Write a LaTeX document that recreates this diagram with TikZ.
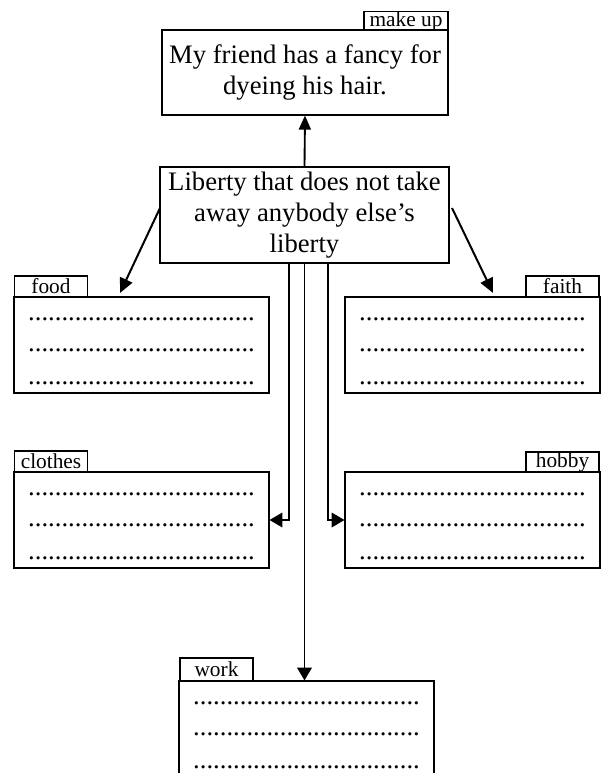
\documentclass[tikz,border=0pt]{standalone}
\usepackage{fontspec}
\setmainfont{Liberation Serif}
\usetikzlibrary{arrows.meta,calc}
\newcommand\dotstr{..................................}
\begin{document}
\begin{tikzpicture}[x=0.75pt,y=-0.75pt,
  box/.style={draw,line width=0.9pt,rectangle,inner sep=0pt,minimum width=191.25pt,minimum height=72pt},
  bigbox/.style={draw,line width=0.9pt,rectangle,inner sep=0pt,align=center,font=\fontsize{20pt}{23.5pt}\selectfont},
  tag/.style={draw,line width=0.8pt,rectangle,inner sep=0pt,minimum width=55pt,minimum height=15.75pt,font=\fontsize{16pt}{18pt}\selectfont},
  dotrow/.style={anchor=base,inner sep=0pt,font=\fontsize{20pt}{24pt}\selectfont},
  diag/.style={line width=1.5pt,-{Triangle[length=11pt,width=10pt]}},
  uparr/.style={line width=1.4pt,-{Triangle[length=10.5pt,width=9pt]}},
  thinarr/.style={line width=0.8pt,-{Triangle[length=9.5pt,width=11pt]}}]
\useasboundingbox (0,0) rectangle (600,773);
% main boxes
\node[bigbox,minimum width=214.5pt,minimum height=63.75pt] (top) at (305,72.5) {My friend has a fancy for\\dyeing his hair.};
\node[tag,minimum width=63pt,minimum height=13.5pt] (topl) at (406,21) {make up};
\node[bigbox,minimum width=216.75pt,minimum height=72pt] (ctr) at (304.5,215) {Liberty that does not take\\away anybody else’s\\liberty};
% answer boxes
\node[box] (food) at (141.5,345) {};
\node[tag] (foodl) at (51,286.5) {food};
\node[box] (faith) at (472.5,345) {};
\node[tag,minimum width=54.75pt] (faithl) at (562.5,286.5) {faith};
\node[box] (clothes) at (141.5,520) {};
\node[tag] (clothesl) at (51,461.5) {clothes};
\node[box] (hobby) at (472.5,520) {};
\node[tag,minimum width=54.75pt,minimum height=15pt] (hobbyl) at (562.5,462) {hobby};
\node[box,minimum height=75pt] (work) at (306.5,731) {};
\node[tag,minimum width=54.75pt,minimum height=17.25pt] (workl) at (216.5,669.5) {work};
% dotted rows
\foreach \b in {food,faith,clothes,hobby,work}{
  \foreach \dy [count=\k] in {24,55,88}
    \node[dotrow] (\b-d\k) at ($(\b.north)+(0,\dy)$) {\dotstr};
}
% connectors
\draw[uparr] (ctr.north) -- (top.south);
\coordinate (dl0) at (160,208);
\coordinate (dl1) at (120,293);
\coordinate (dr0) at (452,208);
\coordinate (dr1) at (493,293);
\draw[diag] (dl0) -- (dl1);
\draw[diag] (dr0) -- (dr1);
\coordinate (sL) at (289,263);
\coordinate (sR) at (328,263);
\draw[thinarr] (sL) |- (clothes.east);
\draw[thinarr] (sR) |- (hobby.west);
\draw[thinarr] (ctr.south) -- (ctr.south |- work.north);
\end{tikzpicture}
\end{document}
